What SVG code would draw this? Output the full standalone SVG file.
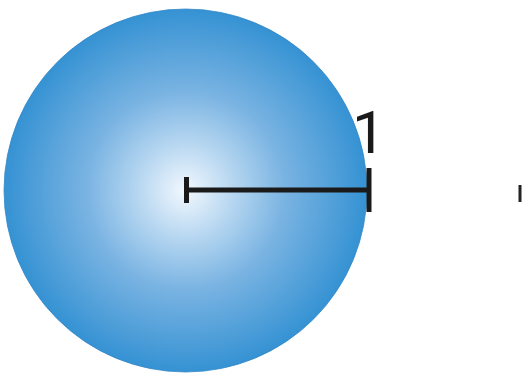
<svg xmlns="http://www.w3.org/2000/svg" width="523" height="373" viewBox="0 0 523 373">
<defs>
<radialGradient id="g" cx="0.5" cy="0.5" r="0.5">
<stop offset="0" stop-color="#f2f8fe"/>
<stop offset="0.25" stop-color="#b9d8f1"/>
<stop offset="0.55" stop-color="#79b3e2"/>
<stop offset="1" stop-color="#3592d3"/>
</radialGradient>
<style>
.bar{stroke:#1a1a1a;stroke-width:5;fill:none}
.lbl{font-family:Roboto,'Liberation Sans',sans-serif;font-size:60px;fill:#1a1a1a}
</style>
</defs>
<rect width="523" height="373" fill="#ffffff"/>
<g id="sphere">
<circle cx="185.5" cy="190.5" r="181.5" fill="url(#g)" stroke="#3388c8" stroke-width="0.8"/>
</g>
<g id="radius">
<line class="bar" x1="186" y1="190" x2="369" y2="190"/>
<line class="bar" x1="186.5" y1="177" x2="186.5" y2="203"/>
<line class="bar" x1="369" y1="168" x2="369" y2="212"/>
</g>
<g id="label">
<text class="lbl" x="352" y="153">1</text>
</g>
<g id="mark">
<rect x="518.5" y="185" width="3" height="17" fill="#222"/>
</g>
</svg>
